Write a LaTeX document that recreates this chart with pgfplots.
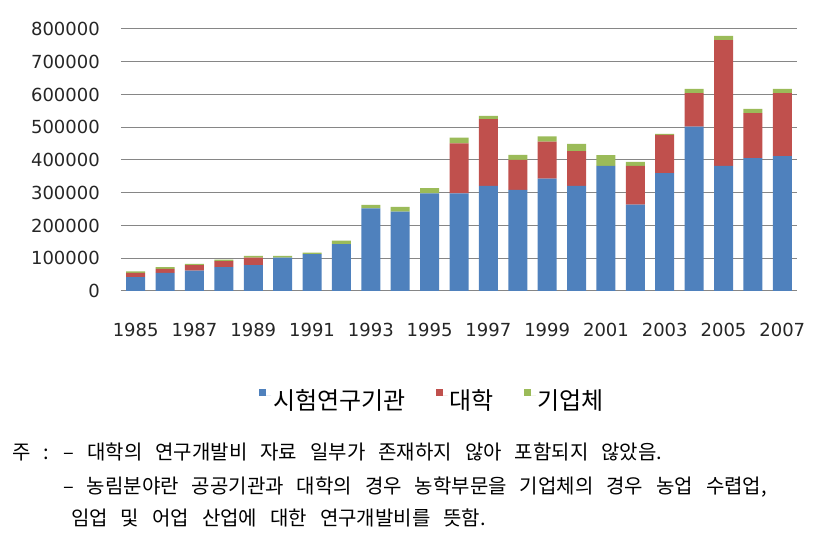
\documentclass[border=0pt]{standalone}
\usepackage{pgfplots}
\pgfplotsset{compat=1.18}
\usepackage{fontspec}
\setmainfont{DejaVu Sans}
\newfontfamily\cjk{Noto Sans CJK KR}
\newfontfamily\cjknote[WordSpace=2.9]{Noto Sans CJK KR}
\definecolor{sblue}{HTML}{4F81BD}
\definecolor{sred}{HTML}{C0504D}
\definecolor{sgreen}{HTML}{9BBB59}
\definecolor{gridgray}{HTML}{868686}
\pgfplotstableread{
x blue red green
0 42000 13000 5000
1 55000 12500 5000
2 62500 16500 4000
3 73000 18500 4000
4 79000 23000 5000
5 102000 0 5000
6 112500 0 5000
7 143000 0 11000
8 252000 0 11000
9 242000 0 15000
10 298000 0 16000
11 298000 153000 17000
12 321000 204000 10000
13 309000 91000 16000
14 343000 113000 16000
15 321000 106000 22000
16 382000 0 33000
17 264000 118000 12000
18 360000 117000 3000
19 502000 102000 13000
20 382000 384000 13000
21 406000 137000 13000
22 412000 192000 13000
}\datatable
\begin{document}
\begin{tikzpicture}[x=1pt,y=1pt]
\path[use as bounding box] (0,0) rectangle (822,534);
\begin{axis}[
  at={(121pt,243pt)}, anchor=south west,
  scale only axis, width=676pt, height=262pt,
  ybar stacked, bar width=19pt,
  xmin=-0.5, xmax=22.5, ymin=0, ymax=800000,
  ytick={0,100000,...,800000},
  xtick={0,2,...,22},
  xticklabels={1985,1987,1989,1991,1993,1995,1997,1999,2001,2003,2005,2007},
  ymajorgrids, grid style={draw=gridgray, line width=1pt},
  axis x line*=bottom, axis y line*=left,
  y axis line style={draw=none},
  x axis line style={draw=gridgray, line width=1pt},
  major tick length=0pt,
  scaled y ticks=false,
  /pgf/number format/assume math mode=true,
  yticklabel style={/pgf/number format/fixed, /pgf/number format/1000 sep={}, inner sep=0pt, xshift=-21pt},
  xticklabel style={inner sep=0pt, yshift=-32pt},
  ticklabel style={font=\fontsize{18}{18}\selectfont, text=black!85},
  legend columns=3,
  legend style={at={(0.461,-0.416)}, anchor=center, draw=none, fill=none,
    font=\cjk\fontsize{24}{24}\selectfont, nodes={inner sep=2pt},
    /tikz/every even column/.append style={column sep=28pt}},
  legend image code/.code={\fill[#1] (0pt,4pt) rectangle (7pt,11pt); \path (7pt,4pt) -- (12pt,4pt);},
]
\addplot[draw=none, fill=sblue] table[x=x, y=blue] {\datatable};
\addlegendentry{시험연구기관}
\addplot[draw=none, fill=sred] table[x=x, y=red] {\datatable};
\addlegendentry{대학}
\addplot[draw=none, fill=sgreen] table[x=x, y=green] {\datatable};
\addlegendentry{기업체}
\end{axis}
\begin{scope}[every node/.style={anchor=base west, inner sep=0pt, font=\cjknote\fontsize{20}{20}\selectfont}]
\node at (12,74) {주 : – 대학의 연구개발비 자료 일부가 존재하지 않아 포함되지 않았음.};
\node at (63,40) {– 농림분야란 공공기관과 대학의 경우 농학부문을 기업체의 경우 농업 수렵업,};
\node at (71,8) {임업 및 어업 산업에 대한 연구개발비를 뜻함.};
\end{scope}
\end{tikzpicture}
\end{document}
